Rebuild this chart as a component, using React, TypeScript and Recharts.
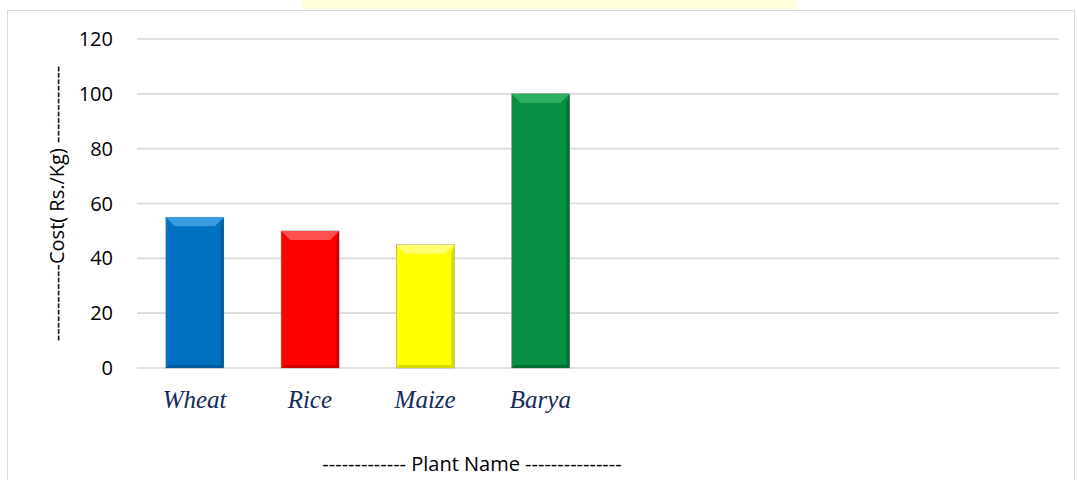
import { BarChart, Bar, XAxis, YAxis, CartesianGrid, Cell } from 'recharts';

// plant names (the chart keeps 4 empty category slots on the right)
const plants = ['Wheat', 'Rice', 'Maize', 'Barya', '', '', '', ''];
const costs: (number | null)[] = [55, 50, 45, 100, null, null, null, null];
const yTicks = [0, 20, 40, 60, 80, 100, 120];

const barColors = ['#0070C0', '#FF0000', '#FFFF00', '#078F43'];
const topShade = ['#3A9BE0', '#FF5050', '#FFFF70', '#2FB060'];
const sideShade = ['#005A9C', '#D00000', '#D8D800', '#056E33'];

const data = plants.map((name, i) => ({ name, cost: costs[i] }));

const FONT = '"Open Sans", sans-serif';

function BevelBar(props: any) {
    const { x, y, width, height, index } = props;
    if (!height || height <= 0) return null;
    const b = 9;
    const s = 3;
    return (
        <g>
            <rect x={x} y={y} width={width} height={height} fill={barColors[index]} stroke="#9a9a9a" strokeWidth={0.6} />
            <polygon
                points={`${x},${y} ${x + width},${y} ${x + width - b},${y + b} ${x + b},${y + b}`}
                fill={topShade[index]}
            />
            <polygon
                points={`${x + width},${y} ${x + width},${y + height} ${x + width - s},${y + height - s} ${x + width - s},${y + b}`}
                fill={sideShade[index]}
            />
            <polygon
                points={`${x},${y + height} ${x + width},${y + height} ${x + width - s},${y + height - s} ${x + s},${y + height - s}`}
                fill={sideShade[index]}
            />
        </g>
    );
}

export default function App() {
    return (
        <div style={{ position: 'absolute', left: 0, top: 0, width: 1077, height: 480, background: '#fff', overflow: 'hidden' }}>
            <div style={{ position: 'absolute', left: 302, top: 0, width: 495, height: 9, background: '#FFFFDC' }} />
            <div
                style={{
                    position: 'absolute',
                    left: 7,
                    top: 10,
                    width: 1068,
                    height: 480,
                    border: '1px solid #D9D9D9',
                    boxSizing: 'border-box',
                }}
            />
            <div style={{ position: 'absolute', left: 0, top: 0 }}>
                <BarChart
                    width={1077}
                    height={480}
                    data={data}
                    margin={{ top: 39, right: 18, left: 0, bottom: 0 }}
                    barCategoryGap="25%"
                >
                    <CartesianGrid vertical={false} stroke="#D9D9D9" strokeWidth={1.6} />
                    <XAxis
                        dataKey="name"
                        height={112}
                        axisLine={false}
                        tickLine={false}
                        tickSize={0}
                        tickMargin={22}
                        interval={0}
                        tick={{ fontSize: 25, fill: '#152B5C', fontFamily: '"Liberation Serif", serif', fontStyle: 'italic' }}
                        label={{
                            value: '-------------  Plant Name ---------------',
                            position: 'insideBottom',
                            offset: 9,
                            dx: -126,
                            fill: '#000',
                            fontSize: 20,
                            fontFamily: FONT,
                        }}
                    />
                    <YAxis
                        width={137}
                        domain={[0, 120]}
                        ticks={yTicks}
                        axisLine={false}
                        tickLine={false}
                        tickSize={0}
                        tickMargin={24}
                        tick={{ fontSize: 20, fill: '#000', fontFamily: FONT }}
                        label={{
                            value: '------------Cost( Rs./Kg) ------------',
                            angle: -90,
                            position: 'center',
                            dx: -12,
                            fill: '#000',
                            fontSize: 20,
                            fontFamily: FONT,
                        }}
                    />
                    <Bar dataKey="cost" isAnimationActive={false} shape={<BevelBar />}>
                        {data.map((entry, index) => (
                            <Cell key={`cell-${index}`} fill={barColors[index % barColors.length]} />
                        ))}
                    </Bar>
                </BarChart>
            </div>
        </div>
    );
}
